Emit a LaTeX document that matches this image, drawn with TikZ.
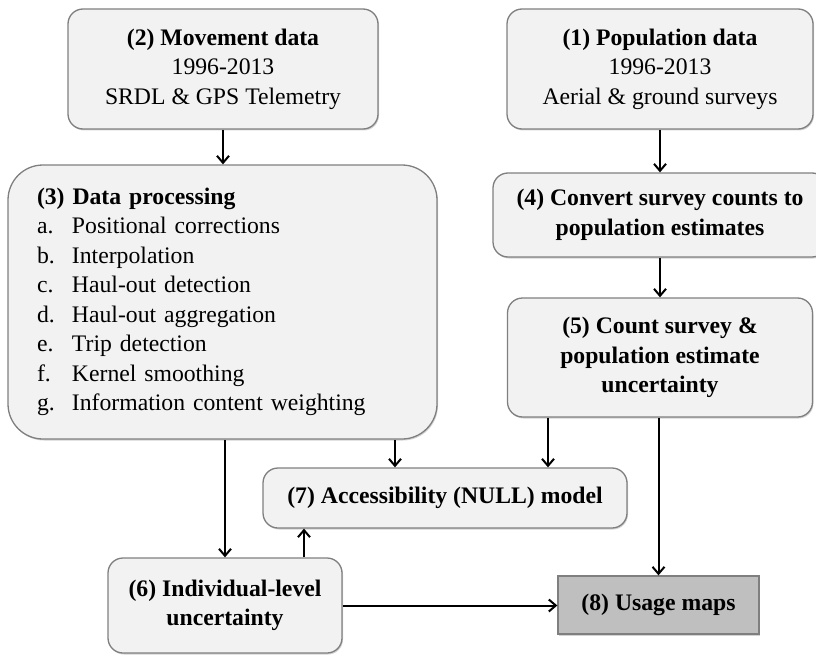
\documentclass[tikz,border=0pt]{standalone}
\usepackage{fontspec}
\setmainfont{Liberation Serif}
\usetikzlibrary{arrows.meta,shadows}
\definecolor{boxfill}{HTML}{F2F2F2}
\definecolor{boxline}{HTML}{7F7F7F}
\definecolor{mapfill}{HTML}{BFBFBF}

\begin{document}
\begin{tikzpicture}[x=1pt,y=-1pt,>={Straight Barb[length=7pt,width=12pt]},
    stage/.style={draw=boxline, line width=1.3pt, fill=boxfill,
        rounded corners=15pt, inner sep=0pt, align=center,
        font=\fontsize{23.7}{29.5}\selectfont,
        drop shadow={shadow xshift=1pt, shadow yshift=-1.5pt, opacity=0.35}},
    flow/.style={->, line width=2pt}]

    \useasboundingbox (0,0) rectangle (816,658);
    \clip (0,0) rectangle (816,658);

    % input data
    \node[stage, minimum width=310pt, minimum height=120pt]
        (move) at (223,69)
        {\textbf{(2) Movement data}\\1996-2013\\SRDL \& GPS Telemetry};

    \node[stage, minimum width=306pt, minimum height=120pt]
        (pop) at (660,69)
        {\textbf{(1) Population data}\\1996-2013\\Aerial \& ground surveys};

    % processing
    \node[stage, rounded corners=35pt, minimum width=429pt,
        minimum height=274pt, text width=371pt, align=left]
        (proc) at (222.5,302)
        {\textbf{(3) Data processing}\\
         \makebox[35pt][l]{a.}Positional corrections\\
         \makebox[35pt][l]{b.}Interpolation\\
         \makebox[35pt][l]{c.}Haul-out detection\\
         \makebox[35pt][l]{d.}Haul-out aggregation\\
         \makebox[35pt][l]{e.}Trip detection\\
         \makebox[35pt][l]{f.}Kernel smoothing\\
         \makebox[35pt][l]{g.}Information content weighting};

    \node[stage, minimum width=334pt, minimum height=84pt, font=\fontsize{23.7}{29.5}\selectfont\bfseries]
        (conv) at (660,215)
        {(4) Convert survey counts to\\population estimates};

    \node[stage, minimum width=305pt, minimum height=119pt, font=\fontsize{23.7}{29.5}\selectfont\bfseries]
        (est) at (660,357.5)
        {(5) Count survey \&\\population estimate\\uncertainty};

    % models and output
    \node[stage, minimum width=364pt, minimum height=60pt, font=\fontsize{23.7}{29.5}\selectfont\bfseries]
        (access) at (445,498)
        {(7) Accessibility (NULL) model};

    \node[stage, minimum width=234pt, minimum height=95pt, font=\fontsize{23.7}{29.5}\selectfont\bfseries]
        (indiv) at (225,605.5)
        {(6) Individual-level\\uncertainty};

    \node[stage, rounded corners=0pt, fill=mapfill, minimum width=201pt,
        minimum height=58pt, font=\fontsize{23.7}{29.5}\selectfont\bfseries]
        (usage) at (658.5,605)
        {(8) Usage maps};

    % connectors
    \draw[flow] (move.south) -- (move.south |- proc.north);
    \draw[flow] (pop.south) -- (conv.north);
    \draw[flow] (conv.south) -- (est.north);
    \draw[flow] (est.south -| usage.north) -- (usage.north);
    \draw[flow] ([xshift=-112pt]est.south) -- ([xshift=-112pt]est.south |- access.north);
    \draw[flow] ([xshift=-50pt]access.north |- proc.south) -- ([xshift=-50pt]access.north);
    \draw[flow] (proc.south -| indiv.north) -- (indiv.north);
    \draw[flow] ([xshift=79pt]indiv.north) -- ([xshift=79pt]indiv.north |- access.south);
    \draw[flow] (indiv.east) -- (indiv.east -| usage.west);

\end{tikzpicture}
\end{document}
